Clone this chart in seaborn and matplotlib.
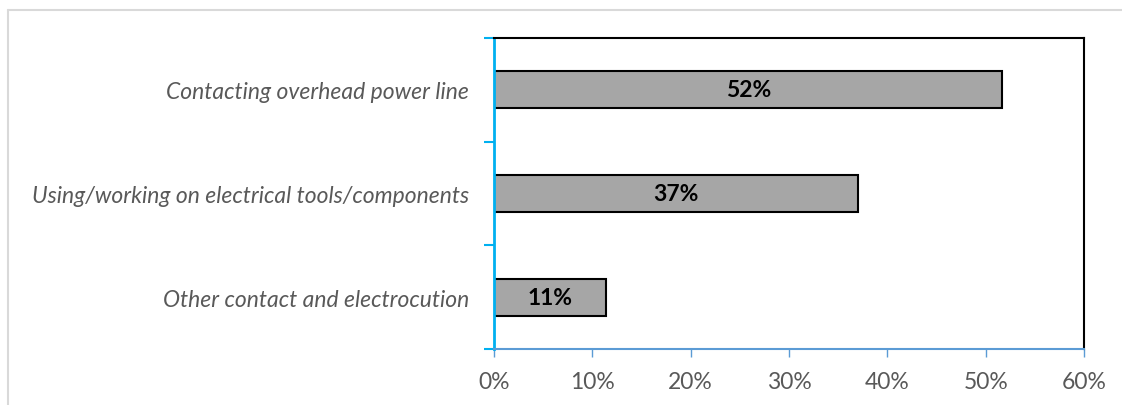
import matplotlib
matplotlib.use("Agg")
import matplotlib.pyplot as plt
from matplotlib.lines import Line2D
import seaborn as sns
import pandas as pd

categories = [
    "Contacting overhead power line",
    "Using/working on electrical tools/components",
    "Other contact and electrocution",
]
shares = [51.7, 37.0, 11.4]
x_ticks = [0, 10, 20, 30, 40, 50, 60]
x_tick_labels = ["0%", "10%", "20%", "30%", "40%", "50%", "60%"]

sns.set_theme(style="white")
plt.rcParams["font.family"] = ["Lato", "DejaVu Sans"]

df = pd.DataFrame({"category": categories, "share": shares})

fig = plt.figure(figsize=(11.22, 4.06), dpi=100)
ax = fig.add_axes([494 / 1122, 1 - 350 / 406, 590 / 1122, 311 / 406])

sns.barplot(data=df, x="share", y="category", orient="h", color="#a6a6a6",
            saturation=1, edgecolor="black", linewidth=1.5, width=0.36, ax=ax)

for patch, val in zip(ax.patches, shares):
    cx = patch.get_x() + patch.get_width() / 2
    cy = patch.get_y() + patch.get_height() / 2
    ax.text(cx, cy, f"{val:.0f}%", ha="center", va="center",
            fontsize=16.5, fontweight="bold", color="black")

ax.set_xlim(0, 60)
ax.set_ylim(2.5, -0.5)
ax.set_xticks(x_ticks)
ax.set_xticklabels(x_tick_labels, fontsize=16.5, color="#595959")
ax.set_yticks(range(len(categories)))
ax.set_yticklabels(categories, fontsize=16.5, color="#595959", style="italic")
ax.set_yticks([-0.5, 0.5, 1.5, 2.5], minor=True)
ax.tick_params(axis="y", which="major", length=0, pad=18)
ax.tick_params(axis="y", which="minor", length=7, width=1.5, color="#00b0f0",
               direction="out", left=True)
ax.tick_params(axis="x", which="major", length=6, width=1, color="#5b9bd5",
               direction="out", bottom=True, pad=10)
ax.set_xlabel("")
ax.set_ylabel("")

ax.spines["left"].set_color("#00b0f0")
ax.spines["left"].set_linewidth(2)
ax.spines["bottom"].set_color("#5b9bd5")
ax.spines["bottom"].set_linewidth(1.5)
ax.spines["top"].set_color("black")
ax.spines["top"].set_linewidth(1.5)
ax.spines["right"].set_color("black")
ax.spines["right"].set_linewidth(1.5)
for s in ax.spines.values():
    s.set_visible(True)

# light frame around the chart area
fx0, fy1 = 7.5 / 1122, 1 - 10.5 / 406
fig.add_artist(Line2D([fx0, 1.0], [fy1, fy1], transform=fig.transFigure,
                      color="#d9d9d9", linewidth=1.5))
fig.add_artist(Line2D([fx0, fx0], [0.0, fy1], transform=fig.transFigure,
                      color="#d9d9d9", linewidth=1.5))

fig.savefig("out.png", dpi=100, facecolor="white")
